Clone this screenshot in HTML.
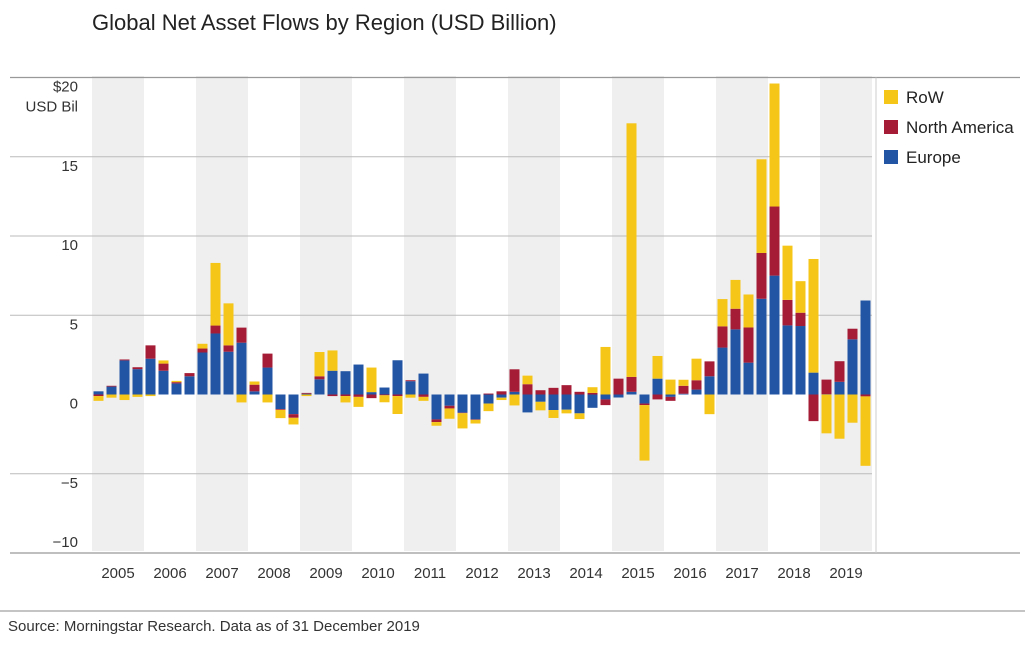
<!DOCTYPE html>
<html><head><meta charset="utf-8"><style>
body{margin:0;background:#fff;font-family:"Liberation Sans Narrow","Liberation Sans",sans-serif;}
svg text{font-family:"Liberation Sans Narrow","Liberation Sans",sans-serif;}
</style></head><body>
<svg id="chart" width="1025" height="641" viewBox="0 0 1025 641" xmlns="http://www.w3.org/2000/svg">
<text x="92" y="30" font-size="22" fill="#222">Global Net Asset Flows by Region (USD Billion)</text>
<g id="bg"></g><g id="grid"></g><g id="bars"></g><g id="axis"></g>
<g>
<rect x="884" y="90" width="14" height="14" fill="#f5c518"/>
<text x="906" y="103" font-size="17" fill="#222">RoW</text>
<rect x="884" y="120" width="14" height="14" fill="#a51c36"/>
<text x="906" y="133" font-size="17" fill="#222">North America</text>
<rect x="884" y="150" width="14" height="14" fill="#2255a4"/>
<text x="906" y="163" font-size="17" fill="#222">Europe</text>
</g>
<line x1="0" y1="611" x2="1025" y2="611" stroke="#888" stroke-width="1"/>
<text x="8" y="631" font-size="15" fill="#333">Source: Morningstar Research. Data as of 31 December 2019</text>
</svg>
<script>
const years = ["2005","2006","2007","2008","2009","2010","2011","2012","2013","2014","2015","2016","2017","2018","2019"];
const europe = [0.2,0.5,2.15,1.6, 2.26,1.5,0.7,1.15, 2.65,3.85,2.7,3.27, 0.2,1.7,-0.92,-1.24, 0.05,0.96,1.5,1.47, 1.89,0.15,0.44,2.16, 0.84,1.32,-1.57,-0.71, -1.15,-1.57,-0.57,-0.2, 0.17,-1.13,-0.46,-0.98, -0.96,-1.19,-0.84,-0.31, -0.19,0.17,-0.57,1.0, -0.15,0.05,0.31,1.15, 2.96,4.11,2.01,6.04, 7.5,4.36,4.32,1.38, 0.02,0.8,3.48,5.93];
const northAmerica = [-0.1,0.05,0.06,0.12, 0.84,0.45,0.08,0.2, 0.25,0.5,0.4,0.95, 0.42,0.88,-0.05,-0.23, 0.05,0.19,-0.1,-0.1, -0.15,-0.23,-0.05,-0.1, 0.06,-0.15,-0.17,-0.17, -0.03,-0.03,0.06,0.2, 1.42,0.65,0.27,0.42, 0.59,0.17,0.1,-0.36, 1.0,0.94,-0.1,-0.31, -0.25,0.5,0.59,0.94, 1.34,1.3,2.22,2.89, 4.36,1.61,0.84,-1.68, 0.92,1.3,0.67,-0.12];
const row = [-0.3,-0.2,-0.35,-0.15, -0.1,0.2,0.08,0.0, 0.3,3.95,2.65,-0.5, 0.2,-0.5,-0.52,-0.42, -0.1,1.53,1.28,-0.4, -0.63,1.55,-0.44,-1.13, -0.2,-0.25,-0.23,-0.65, -0.96,-0.23,-0.48,-0.15, -0.69,0.54,-0.54,-0.5, -0.23,-0.36,0.36,3.0, 0.0,16.0,-3.5,1.43, 0.94,0.38,1.36,-1.24, 1.72,1.82,2.08,5.91, 7.76,3.42,1.99,7.17, -2.45,-2.79,-1.78,-4.38];
const yTicks = [15,10,5,0,-5,-10];
const tickLabels = ["15","10","5","0","\u22125","\u221210"];

const NS="http://www.w3.org/2000/svg";
const X0=92, X1=872, Y0=394.5, PPU=15.85;
const yearW=(X1-X0)/years.length, qW=yearW/4, bw=10;
const y=v=>Y0-v*PPU;
function mk(tag,attrs,parent){const e=document.createElementNS(NS,tag);for(const k in attrs)e.setAttribute(k,attrs[k]);document.getElementById(parent).appendChild(e);return e;}
years.forEach((yr,i)=>{
  if(i%2===0){const r=mk('rect',{x:X0+i*yearW,y:76,width:yearW,height:475,fill:'#efefef'},'bg');
    
    }
  const t=mk('text',{x:X0+i*yearW+yearW/2,y:578,'font-size':15,fill:'#333','text-anchor':'middle'},'axis');
  t.textContent=yr;
  
  
});
let g=mk('line',{x1:10,x2:1020,y1:y(20),y2:y(20),stroke:'#999','stroke-width':1.3},'grid');


g=mk('line',{x1:10,x2:1020,y1:y(-10),y2:y(-10),stroke:'#999','stroke-width':1.3},'grid');


g=mk('line',{x1:876,x2:876,y1:y(20),y2:y(-10),stroke:'#ccc','stroke-width':1},'grid');


yTicks.forEach((v,i)=>{
  if(v!==0&&v!==-10){const l=mk('line',{x1:10,x2:X1,y1:y(v),y2:y(v),stroke:'#bbb','stroke-width':1},'grid');
    
    }
  const off = v===-10 ? -6 : 14;
  const t=mk('text',{x:78,y:y(v)+off,'font-size':15,fill:'#333','text-anchor':'end'},'axis');
  t.textContent=tickLabels[i];
  
  
});
let t=mk('text',{x:78,y:y(20)+14,'font-size':15,fill:'#333','text-anchor':'end'},'axis');t.textContent='$20';


t=mk('text',{x:78,y:y(20)+34,'font-size':15,fill:'#333','text-anchor':'end'},'axis');t.textContent='USD Bil';


const series=[['europe',europe,'#2255a4'],['north-america',northAmerica,'#a51c36'],['row',row,'#f5c518']];
europe.forEach((_,i)=>{
  let pos=0,neg=0;const cx=X0+i*qW+qW/2;
  series.forEach(([nm,arr,col])=>{
    const v=arr[i];let a,b;
    if(v>=0){a=pos;b=pos+v;pos=b;}else{a=neg;b=neg+v;neg=b;}
    const r=mk('rect',{x:cx-bw/2,y:Math.min(y(a),y(b)),width:bw,height:Math.abs(y(a)-y(b)),fill:col},'bars');
    
    
  });
});
</script>
</body></html>
